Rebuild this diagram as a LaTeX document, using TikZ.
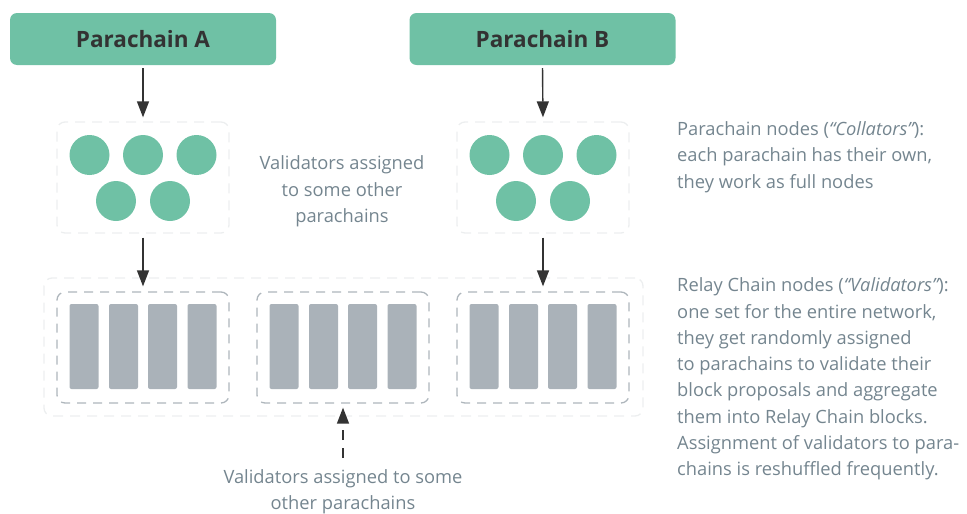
\documentclass[tikz,border=0pt]{standalone}
\usepackage{fontspec}
\setmainfont{Open Sans}
\usetikzlibrary{arrows.meta}
\definecolor{pgreen}{HTML}{6FC1A5}
\definecolor{bargray}{HTML}{AAB2B9}
\definecolor{boxgray}{HTML}{AEB6BC}
\definecolor{lightdash}{HTML}{ECEEEF}
\definecolor{txtgray}{HTML}{74858F}
\definecolor{arrowdark}{HTML}{333333}
\begin{document}
\begin{tikzpicture}[x=1pt,y=-1pt,
  titlebox/.style={fill=pgreen, rounded corners=7pt, minimum width=266pt, minimum height=52pt, inner sep=0pt, text=arrowdark, font=\fontsize{22.5}{26}\selectfont\bfseries},
  lightbox/.style={draw=lightdash, line width=1.3pt, dash pattern=on 10pt off 7pt, rounded corners=8pt, inner sep=0pt},
  groupbox/.style={draw=boxgray, line width=1.3pt, dash pattern=on 9pt off 7pt, rounded corners=8pt, inner sep=0pt, minimum width=172pt, minimum height=111pt},
  coll/.style={circle, fill=pgreen, minimum size=40pt, inner sep=0pt},
  bar/.style={fill=bargray, rounded corners=2pt, minimum width=29pt, minimum height=85pt, inner sep=0pt},
  flow/.style={draw=arrowdark, line width=1.4pt, -{Triangle[width=12pt,length=16pt]}},
  note/.style={text=txtgray, font=\fontsize{18.3}{26.3}\selectfont, inner sep=0pt}
]
\useasboundingbox (0,0) rectangle (967,514);

% titles
\node[titlebox] (pa) at (143,39) {Parachain A};
\node[titlebox] (pb) at (542.5,39) {Parachain B};

% collator boxes
\node[lightbox, minimum width=172pt, minimum height=111pt] (ca) at (143,177.5) {};
\node[lightbox, minimum width=172pt, minimum height=111pt] (cb) at (543,177.5) {};

\foreach \cx/\n in {143/a,543/b}{
  \node[coll] (c\n1) at (\cx-53.5,155) {};
  \node[coll] (c\n2) at (\cx,155) {};
  \node[coll] (c\n3) at (\cx+53.5,155) {};
  \node[coll] (c\n4) at (\cx-27,201) {};
  \node[coll] (c\n5) at (\cx+27,201) {};
}

% relay chain
\node[lightbox, minimum width=599pt, minimum height=138pt] (relay) at (343.5,347) {};
\node[groupbox] (g1) at (143,347.5) {};
\node[groupbox] (g2) at (343,347.5) {};
\node[groupbox] (g3) at (543,347.5) {};
\foreach \gx/\n in {143/1,343/2,543/3}{
  \node[bar] (b\n1) at (\gx-59,346.5) {};
  \node[bar] (b\n2) at (\gx-19.5,346.5) {};
  \node[bar] (b\n3) at (\gx+19.5,346.5) {};
  \node[bar] (b\n4) at (\gx+59,346.5) {};
}

% arrows
\draw[flow, shorten <=3pt, shorten >=4pt] (pa.south) -- (ca.north);
\draw[flow, shorten <=3pt, shorten >=4pt] (pb.south) -- (cb.north);
\draw[flow, shorten <=4pt, shorten >=5pt] (ca.south) -- (g1.north);
\draw[flow, shorten <=4pt, shorten >=5pt] (cb.south) -- (g3.north);
\coordinate (vfoot) at (343,458);
\draw[flow, dash pattern=on 10pt off 8pt, shorten >=4pt] (vfoot) -- (g2.south);

% texts
\node[note, align=center] (tmid) at (342,191.5) {Validators assigned\\to some other\\parachains};
\node[note, align=center] (tbot) at (343,492) {Validators assigned to some\\other parachains};
\node[note, align=left, anchor=west] (tcoll) at (677,157) {Parachain nodes ({\itshape “Collators”}):\\each parachain has their own,\\they work as full nodes};
\node[note, align=left, anchor=west] (tval) at (677,379) {Relay Chain nodes ({\itshape “Validators”}):\\one set for the entire network,\\they get randomly assigned\\to parachains to validate their\\block proposals and aggregate\\them into Relay Chain blocks.\\Assignment of validators to para-\\chains is reshuffled frequently.};
\end{tikzpicture}
\end{document}
